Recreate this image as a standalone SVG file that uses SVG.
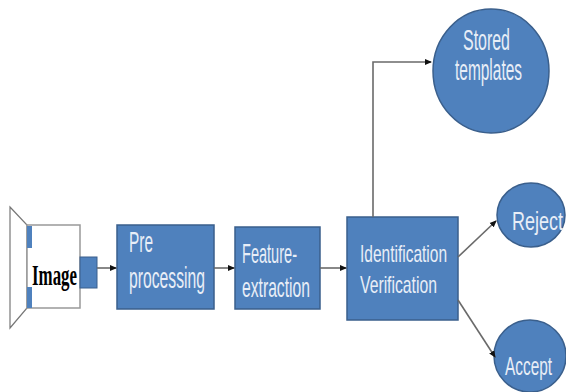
<svg xmlns="http://www.w3.org/2000/svg" width="566" height="392" viewBox="0 0 566 392">
<style>
.box{fill:#4f81bd;stroke:#3a5f8c;stroke-width:1.5}
.t{font-family:"Liberation Sans",Arial,sans-serif;fill:#e8eef7}
.c{stroke:#6a6a6a;stroke-width:1.6;fill:none;marker-end:url(#ah)}
</style>
<defs>
<marker id="ah" markerWidth="7" markerHeight="7" refX="6" refY="3.5" orient="auto" markerUnits="userSpaceOnUse">
<path d="M0,0.5 L7,3.5 L0,6.5 z" fill="#111"/>
</marker>
</defs>
<rect width="566" height="392" fill="#fff"/>
<g id="image">
<path d="M10,207 L27,225 L27,308 L10,328 Z" fill="#fff" stroke="#777" stroke-width="1.2"/>
<rect x="27" y="225" width="53" height="83" fill="#fff" stroke="#999" stroke-width="1.5"/>
<rect x="27" y="226" width="5" height="22" fill="#4f81bd"/>
<rect x="27" y="287" width="5" height="21" fill="#4f81bd"/>
<rect x="80" y="257" width="17" height="31" fill="#4f81bd" stroke="#3a5f8c" stroke-width="1"/>
<text x="32" y="285" font-family="'Liberation Serif','Times New Roman',serif" font-weight="bold" font-size="29" fill="#000" textLength="45" lengthAdjust="spacingAndGlyphs">Image</text>
</g>
<g id="preprocessing">
<rect class="box" x="117" y="225" width="97" height="84"/>
<text class="t" x="129" y="252" font-size="29" textLength="24" lengthAdjust="spacingAndGlyphs">Pre</text>
<text class="t" x="129" y="288" font-size="29" textLength="76" lengthAdjust="spacingAndGlyphs">processing</text>
</g>
<g id="feature">
<rect class="box" x="235" y="227" width="85" height="82"/>
<text class="t" x="242" y="263" font-size="28" textLength="55" lengthAdjust="spacingAndGlyphs">Feature-</text>
<text class="t" x="242" y="297" font-size="28" textLength="68" lengthAdjust="spacingAndGlyphs">extraction</text>
</g>
<g id="identification">
<rect class="box" x="347" y="217" width="111" height="103"/>
<text class="t" x="360" y="262" font-size="24" textLength="87" lengthAdjust="spacingAndGlyphs">Identification</text>
<text class="t" x="360" y="293" font-size="24" textLength="77" lengthAdjust="spacingAndGlyphs">Verification</text>
</g>
<g id="stored">
<ellipse class="box" cx="491" cy="71" rx="58" ry="62"/>
<text class="t" x="463" y="50" font-size="29" textLength="47" lengthAdjust="spacingAndGlyphs">Stored</text>
<text class="t" x="455" y="80" font-size="29" textLength="67" lengthAdjust="spacingAndGlyphs">templates</text>
</g>
<g id="reject">
<ellipse class="box" cx="531" cy="215" rx="34" ry="32"/>
<text class="t" x="512" y="230" font-size="25" textLength="51" lengthAdjust="spacingAndGlyphs">Reject</text>
</g>
<g id="accept">
<ellipse class="box" cx="530" cy="356" rx="36" ry="36"/>
<text class="t" x="505" y="375" font-size="25" textLength="47" lengthAdjust="spacingAndGlyphs">Accept</text>
</g>
<g id="connectors">
<path class="c" d="M97,268 L116,268"/>
<path class="c" d="M214,268 L234,268"/>
<path class="c" d="M320,268 L346,268"/>
<path class="c" d="M373,217 L373,62 L431,62"/>
<path class="c" d="M458,257 L496,221"/>
<path class="c" d="M458,300 L495,357"/>
</g>
</svg>
